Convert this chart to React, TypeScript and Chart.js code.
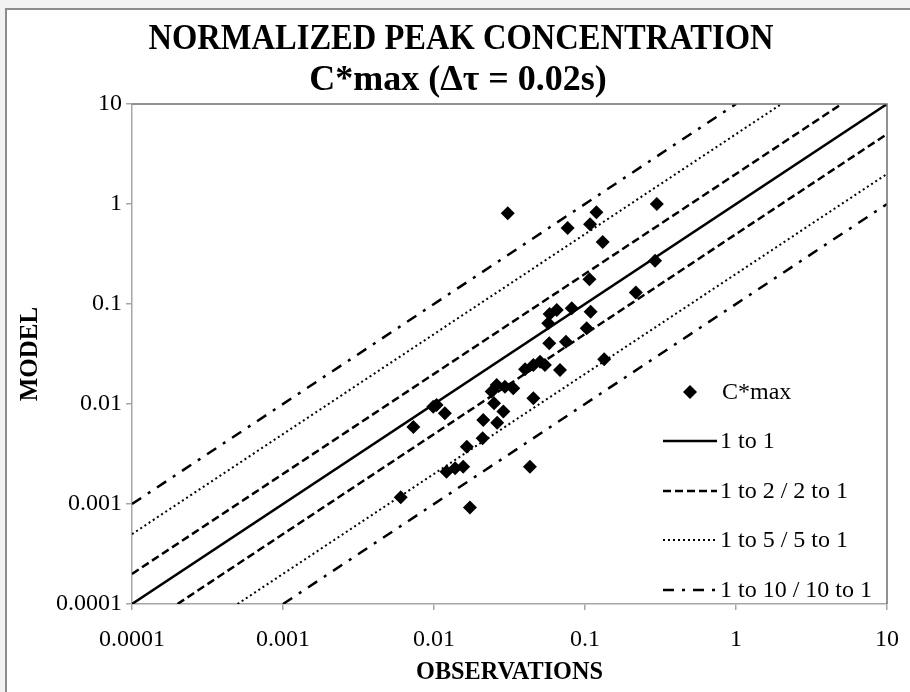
import React, { useEffect, useRef } from 'react';
import { Chart, registerables } from 'chart.js';

Chart.register(...registerables);

const TITLE_LINES = ['NORMALIZED PEAK CONCENTRATION', 'C*max (\u0394\u03c4 = 0.02s)'];
const X_TITLE = 'OBSERVATIONS';
const Y_TITLE = 'MODEL';
const TICK_VALUES = [0.0001, 0.001, 0.01, 0.1, 1, 10];
const TICK_LABELS = ['0.0001', '0.001', '0.01', '0.1', '1', '10'];
const SERIES_LABEL = 'C*max';

const OBS = [
  0.0308, 0.119, 0.299, 0.0767, 0.108, 0.131, 0.291, 0.107, 0.217, 0.065,
  0.0583, 0.0817, 0.109, 0.0571, 0.1026, 0.058, 0.0748, 0.0504, 0.0455, 0.0401,
  0.0543, 0.0683, 0.134, 0.026, 0.0241, 0.0295, 0.0335, 0.0455, 0.00989, 0.0104,
  0.0118, 0.025, 0.0288, 0.0212, 0.0262, 0.021, 0.0165, 0.0432, 0.0156, 0.0138,
  0.0121, 0.00602, 0.0173, 0.0073,
];
const MODEL = [
  0.807, 0.826, 1.0, 0.575, 0.627, 0.417, 0.271, 0.177, 0.13, 0.087,
  0.0794, 0.0906, 0.0838, 0.0641, 0.0571, 0.0405, 0.042, 0.0265, 0.0245, 0.0222,
  0.0245, 0.0219, 0.028, 0.0155, 0.0133, 0.0149, 0.0144, 0.0114, 0.0094, 0.0098,
  0.0081, 0.0102, 0.0084, 0.0069, 0.0065, 0.00454, 0.00374, 0.00236, 0.00236, 0.00228,
  0.0021, 0.00117, 0.00092, 0.0059,
];

const RATIOS = [1, 2, 5, 10];
const RATIO_LABELS = ['1 to 1', '1 to 2 / 2 to 1', '1 to 5 / 5 to 1', '1 to 10 / 10 to 1'];

const DASHES: number[][] = [[], [8, 4], [2, 3], [11, 8, 3, 8]];
const WIDTHS = [2.5, 2.5, 2, 2.5];
const SERIF = '"Liberation Serif", "Times New Roman", serif';

export default function App() {
  const ref = useRef<HTMLCanvasElement | null>(null);

  useEffect(() => {
    if (!ref.current) return;
    const MIN = TICK_VALUES[0];
    const MAX = TICK_VALUES[TICK_VALUES.length - 1];

    const datasets: any[] = [
      {
        type: 'scatter',
        label: SERIES_LABEL,
        data: OBS.map((x, i) => ({ x, y: MODEL[i] })),
        pointStyle: 'rectRot',
        pointRadius: 7,
        pointBackgroundColor: '#000',
        pointBorderWidth: 0,
        borderColor: '#000',
        backgroundColor: '#000',
      },
    ];
    RATIOS.forEach((r, k) => {
      const common = {
        type: 'line',
        label: RATIO_LABELS[k],
        showLine: true,
        pointRadius: 0,
        borderColor: '#000',
        borderWidth: WIDTHS[k],
        borderDash: DASHES[k],
        fill: false,
        tension: 0,
      };
      datasets.push({ ...common, data: [{ x: MIN, y: MIN * r }, { x: MAX / r, y: MAX }] });
      if (r !== 1) {
        datasets.push({ ...common, data: [{ x: MIN * r, y: MIN }, { x: MAX, y: MAX / r }] });
      }
    });

    const decor = {
      id: 'decor',
      beforeDraw(chart: any) {
        const c = chart.ctx;
        const W = chart.width, H = chart.height;
        c.save();
        c.fillStyle = '#f2f2f2';
        c.fillRect(0, 0, W, H);
        c.fillStyle = '#ffffff';
        c.fillRect(6, 9, W - 6, H - 9);
        c.strokeStyle = '#8c8c8c';
        c.lineWidth = 2;
        c.beginPath();
        c.moveTo(6, H);
        c.lineTo(6, 9);
        c.lineTo(W, 9);
        c.stroke();
        c.restore();
      },
      afterDraw(chart: any) {
        const c = chart.ctx;
        const a = chart.chartArea;
        c.save();
        // plot top/right border
        c.strokeStyle = '#6e6e6e';
        c.lineWidth = 1.5;
        c.beginPath();
        c.moveTo(a.left, a.top);
        c.lineTo(a.right, a.top);
        c.lineTo(a.right, a.bottom);
        c.stroke();

        // title
        c.fillStyle = '#000';
        c.textAlign = 'center';
        c.textBaseline = 'middle';
        const drawScaled = (txt: string, x: number, y: number, font: string, sx: number) => {
          c.save();
          c.translate(x, y);
          c.scale(sx, 1);
          c.font = font;
          c.fillText(txt, 0, 0);
          c.restore();
        };
        drawScaled(TITLE_LINES[0], 461, 40, `bold 35px ${SERIF}`, 0.93);
        drawScaled(TITLE_LINES[1], 458, 81, `bold 36px ${SERIF}`, 1.0);

        // axis titles
        drawScaled(X_TITLE, (a.left + a.right) / 2, 673, `bold 25px ${SERIF}`, 0.97);
        c.save();
        c.translate(31, (a.top + a.bottom) / 2);
        c.rotate(-Math.PI / 2);
        c.font = `bold 25px ${SERIF}`;
        c.fillText(Y_TITLE, 0, 0);
        c.restore();

        // legend
        const rows = [392, 441, 491, 540, 590];
        c.textAlign = 'left';
        c.textBaseline = 'middle';
        c.font = `24px ${SERIF}`;
        // diamond
        c.beginPath();
        c.moveTo(690, rows[0] - 7);
        c.lineTo(697, rows[0]);
        c.lineTo(690, rows[0] + 7);
        c.lineTo(683, rows[0]);
        c.closePath();
        c.fill();
        c.fillText(SERIES_LABEL, 722, rows[0] + 1);
        RATIO_LABELS.forEach((lab, k) => {
          const y = rows[k + 1];
          c.save();
          c.strokeStyle = '#000';
          c.lineWidth = WIDTHS[k];
          c.setLineDash(DASHES[k]);
          c.beginPath();
          c.moveTo(663, y);
          c.lineTo(717, y);
          c.stroke();
          c.restore();
          c.fillText(lab, 720, y + 1);
        });
        c.restore();
      },
    };

    const tickFont = { family: SERIF, size: 24 };
    const chart = new Chart(ref.current, {
      type: 'scatter',
      data: { datasets },
      options: {
        responsive: true,
        maintainAspectRatio: false,
        animation: false,
        layout: { padding: { top: 104, right: 23, left: 0, bottom: 0 } },
        plugins: {
          legend: { display: false },
          tooltip: { enabled: false },
          title: { display: false },
        },
        scales: {
          x: {
            type: 'logarithmic',
            min: MIN,
            max: MAX,
            afterBuildTicks: (s: any) => {
              s.ticks = TICK_VALUES.map((v) => ({ value: v }));
            },
            afterFit: (s: any) => {
              s.height = 88;
              s.paddingLeft = 0;
              s.paddingRight = 0;
            },
            ticks: {
              callback: (_v: any, i: number) => TICK_LABELS[i],
              font: tickFont,
              color: '#000',
              padding: 15,
              autoSkip: false,
              maxRotation: 0,
            },
            grid: { drawOnChartArea: false, drawTicks: true, tickLength: 6, color: '#a6a6a6', lineWidth: 1.5 },
            border: { display: true, color: '#a6a6a6', width: 1.5 },
          },
          y: {
            type: 'logarithmic',
            min: MIN,
            max: MAX,
            afterBuildTicks: (s: any) => {
              s.ticks = TICK_VALUES.map((v) => ({ value: v }));
            },
            afterFit: (s: any) => {
              s.width = 132;
              s.paddingTop = 0;
              s.paddingBottom = 0;
            },
            ticks: {
              callback: (_v: any, i: number) => TICK_LABELS[i],
              font: tickFont,
              color: '#000',
              padding: 4,
              autoSkip: false,
            },
            grid: { drawOnChartArea: false, drawTicks: true, tickLength: 6, color: '#a6a6a6', lineWidth: 1.5 },
            border: { display: true, color: '#a6a6a6', width: 1.5 },
          },
        },
      } as any,
      plugins: [decor],
    });
    return () => chart.destroy();
  }, []);

  return (
    <div style={{ position: 'absolute', left: 0, top: 0, width: 910, height: 692 }}>
      <canvas ref={ref} />
    </div>
  );
}
